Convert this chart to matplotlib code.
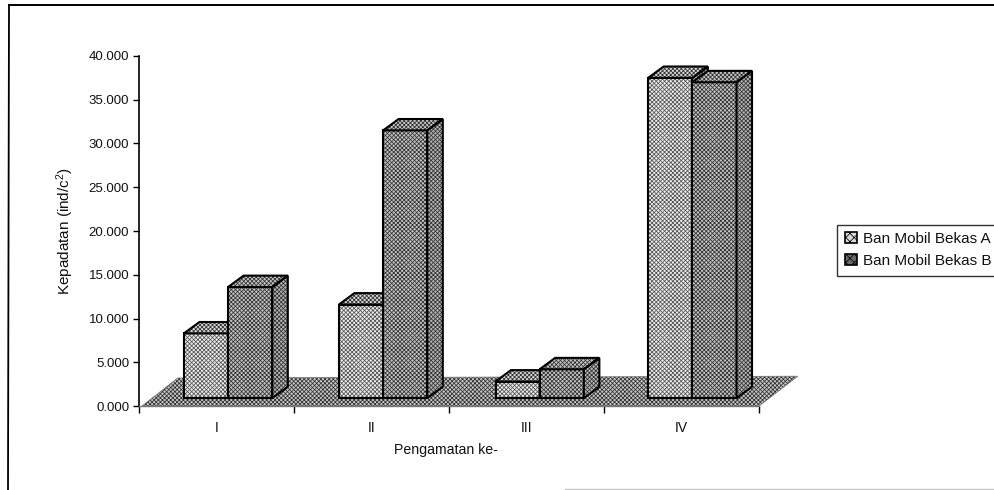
import matplotlib
matplotlib.use("Agg")
import matplotlib.pyplot as plt
from matplotlib.patches import Polygon
from matplotlib.lines import Line2D

categories = ["I", "II", "III", "IV"]
series_a = [7.4, 10.7, 1.9, 36.6]
series_b = [12.7, 30.6, 3.3, 36.1]
series_names = ["Ban Mobil Bekas A", "Ban Mobil Bekas B"]
y_ticks = [0, 5, 10, 15, 20, 25, 30, 35, 40]
y_tick_labels = ["0.000", "5.000", "10.000", "15.000", "20.000", "25.000", "30.000", "35.000", "40.000"]

W, H = 995, 490
plt.rcParams["font.family"] = ["Liberation Sans", "DejaVu Sans"]
plt.rcParams["hatch.linewidth"] = 0.55
plt.rcParams["mathtext.default"] = "regular"

fig = plt.figure(figsize=(W / 100, H / 100), dpi=100, facecolor="white")
ax = fig.add_axes([139 / W, 1 - 406 / H, 620 / W, 350 / H])
ax.set_xlim(0, 4)
ax.set_ylim(0, 40)
ax.patch.set_alpha(0)

# Depth of the 3D look, in data units
BASE = 0.9
BAR_W = 0.285
DX, DY = 0.10, 1.3
FLOOR_DX, FLOOR_DY = 0.25, 3.2
STARTS = [0.29, 1.29, 2.30, 3.285]

def poly(points, face, hatch=None, edge="black", lw=1.2, hatch_color="black", z=2):
    ax.add_patch(Polygon(points, closed=True, facecolor=face, edgecolor=hatch_color, hatch=hatch,
                         lw=0, clip_on=False, zorder=z))
    ax.add_patch(Polygon(points, closed=True, fill=False, edgecolor=edge, lw=lw,
                         clip_on=False, zorder=z + 0.01))

# Floor
poly([(0.02, 0), (FLOOR_DX, FLOOR_DY), (4 + FLOOR_DX, FLOOR_DY + 0.2), (4, 0)],
     "#c4c4c4", "xxxxxxxx", edge="#777777", lw=0.6, hatch_color="#333333", z=1)

def box(x, value, front, top, side, front_ink, z):
    y0, y1 = BASE, BASE + value
    poly([(x, y0), (x + BAR_W, y0), (x + BAR_W, y1), (x, y1)], front, "xxxxxxxx", lw=1.5,
         hatch_color=front_ink, z=z)
    poly([(x, y1), (x + BAR_W, y1), (x + BAR_W + DX, y1 + DY), (x + DX, y1 + DY)], top, "xxxxxxxx",
         lw=1.5, hatch_color="#333333", z=z + 0.1)
    poly([(x + BAR_W, y0), (x + BAR_W + DX, y0 + DY), (x + BAR_W + DX, y1 + DY), (x + BAR_W, y1)],
         side, "xxxxxxxx", lw=1.5, hatch_color="#333333", z=z + 0.1)

for i in range(len(categories)):
    x = STARTS[i]
    box(x, series_a[i], "#ececec", "#d6d6d6", "#c0c0c0", "#555555", 3 + i)
    box(x + BAR_W, series_b[i], "#c2c2c2", "#c4c4c4", "#b4b4b4", "#333333", 3.5 + i)

# Axes
for s in ["top", "right"]:
    ax.spines[s].set_visible(False)
ax.spines["left"].set_linewidth(1.2)
ax.spines["left"].set_zorder(20)
ax.spines["bottom"].set_color("#777777")
ax.spines["bottom"].set_linewidth(1.0)
ax.spines["bottom"].set_zorder(20)
ax.set_yticks(y_ticks)
ax.set_yticklabels(y_tick_labels, fontsize=9.5, color="#111111")
ax.set_xticks(range(5))
ax.set_xticklabels([""] * 5)
ax.set_xticks([i + 0.5 for i in range(4)], minor=True)
ax.set_xticklabels(categories, minor=True, fontsize=10, color="#111111")
ax.tick_params(axis="x", which="minor", length=0, pad=11)
ax.tick_params(axis="x", which="major", length=5, width=1.0)
ax.tick_params(axis="y", length=4, width=1.0, pad=3)

fig.text(446 / W, 1 - 450 / H, "Pengamatan ke-", ha="center", va="center", fontsize=10.2, color="#111111")
fig.text(65 / W, 1 - 231 / H, "Kepadatan (ind/c$^2$)", rotation=90, ha="center", va="center",
         fontsize=11, color="#111111")

# Outer frame, open at the right as in the scan
fig.add_artist(Line2D([9 / W, 995 / W], [1 - 5 / H, 1 - 5 / H], color="black", lw=1.4))
fig.add_artist(Line2D([9 / W, 8 / W], [1 - 5 / H, 0], color="black", lw=1.3))
fig.add_artist(Line2D([565 / W, 995 / W], [1 - 489 / H, 1 - 489 / H], color="#c8c8c8", lw=1))

# Legend
handles = [
    plt.Rectangle((0, 0), 1, 1, facecolor="#d8d8d8", edgecolor="black", hatch="xxxx", lw=1.2),
    plt.Rectangle((0, 0), 1, 1, facecolor="#6a6a6a", edgecolor="black", hatch="xxxx", lw=1.2),
]
leg = fig.legend(handles, series_names, loc="lower left",
                 bbox_to_anchor=(837.5 / W, 1 - 275.5 / H), bbox_transform=fig.transFigure,
                 fontsize=11, frameon=True, fancybox=False, edgecolor="black",
                 handlelength=0.75, handleheight=0.75, handletextpad=0.45, borderpad=0.5,
                 labelspacing=0.5, borderaxespad=0, labelcolor="#111111")
leg.get_frame().set_linewidth(1.0)

fig.savefig("out.png", dpi=100, facecolor="white")
